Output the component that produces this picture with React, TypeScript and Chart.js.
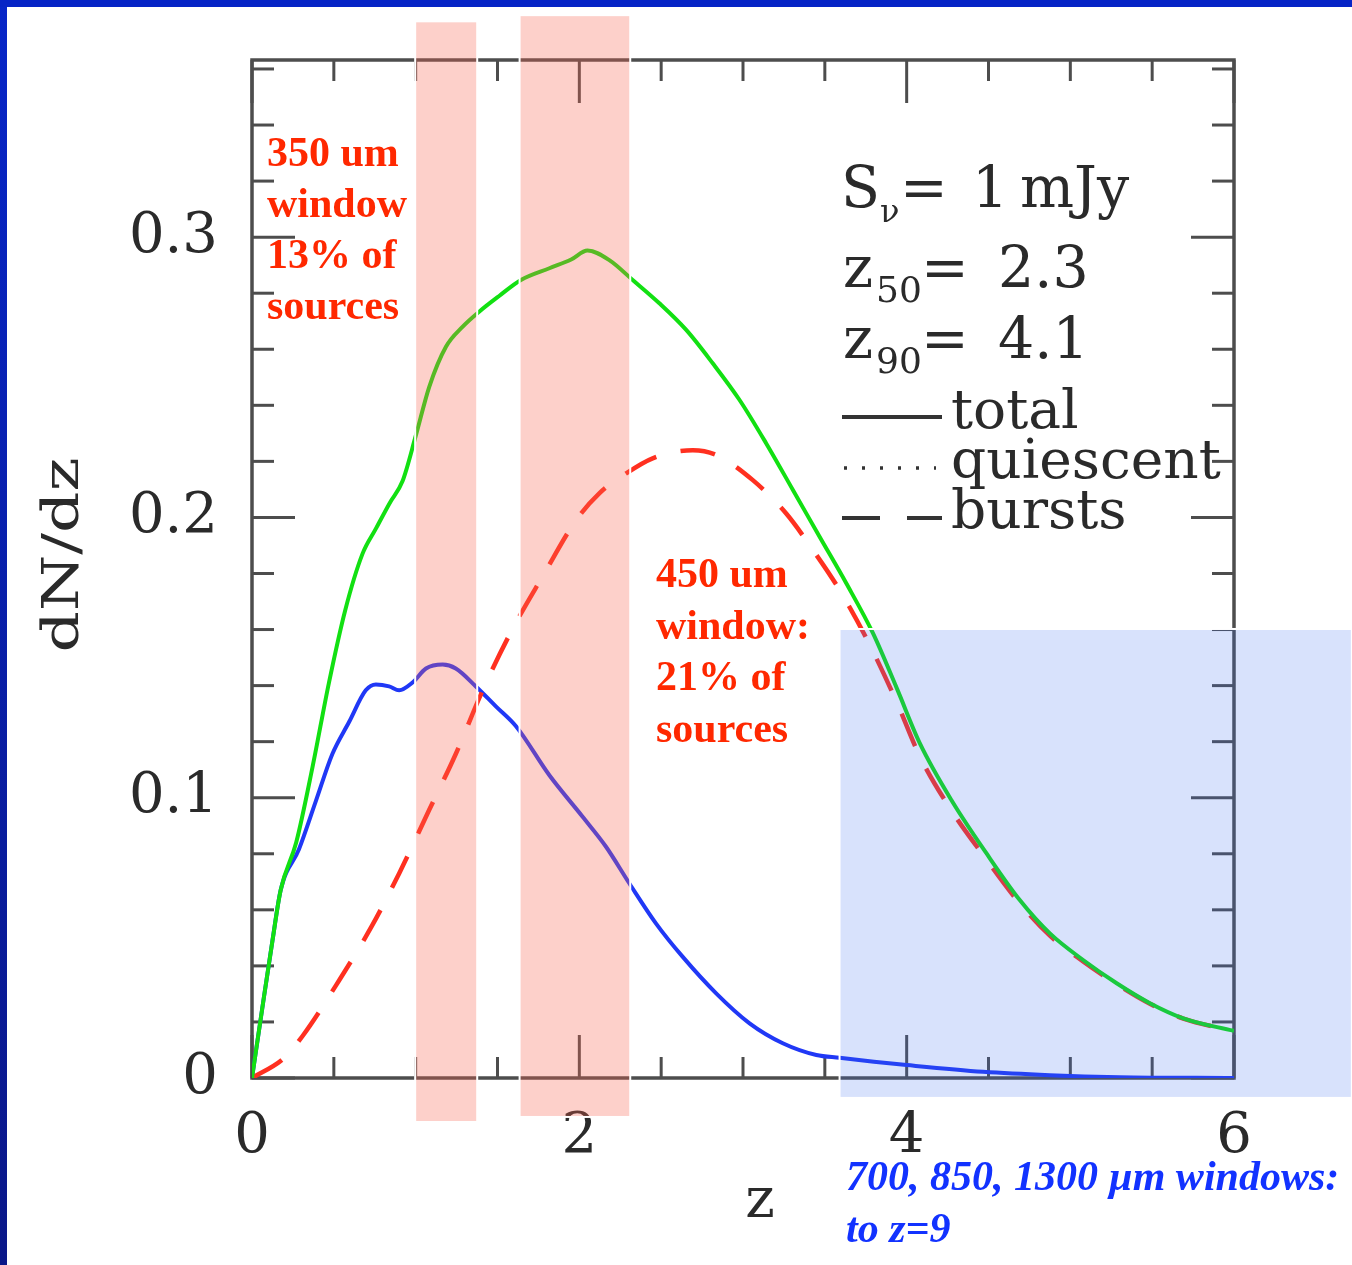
import React, { useEffect, useRef } from 'react';
import { Chart, registerables } from 'chart.js';

Chart.register(...registerables);

// ---------- data ----------
const zTotal = [0, 0.063, 0.125, 0.175, 0.27, 0.37, 0.47, 0.57, 0.675, 0.757, 0.84, 0.92, 1.0, 1.083, 1.185, 1.286, 1.388, 1.51, 1.643, 1.817, 1.95, 2.05, 2.183, 2.326, 2.489, 2.653, 2.815, 2.979, 3.142, 3.305, 3.468, 3.631, 3.794, 3.94, 4.08, 4.273, 4.487, 4.691, 4.875, 5.078, 5.283, 5.486, 5.69, 6.0];
const total = [0, 0.025, 0.049, 0.067, 0.084, 0.111, 0.141, 0.167, 0.187, 0.196, 0.205, 0.213, 0.229, 0.2466, 0.2609, 0.268, 0.2734, 0.279, 0.2847, 0.2889, 0.292, 0.2952, 0.2918, 0.2847, 0.2764, 0.2669, 0.255, 0.2419, 0.2264, 0.2098, 0.1931, 0.1765, 0.1587, 0.139, 0.1195, 0.0992, 0.0802, 0.0635, 0.0516, 0.0421, 0.0338, 0.0267, 0.0213, 0.0168];

const zQuiescent = [0, 0.063, 0.125, 0.175, 0.287, 0.389, 0.491, 0.593, 0.695, 0.757, 0.838, 0.899, 0.981, 1.063, 1.165, 1.245, 1.368, 1.49, 1.613, 1.817, 2.02, 2.163, 2.306, 2.469, 2.632, 2.836, 3.04, 3.243, 3.448, 3.59, 3.8, 4.0, 4.467, 4.875, 5.3, 6.0];
const quiescent = [0, 0.025, 0.049, 0.067, 0.0816, 0.0986, 0.1156, 0.127, 0.1383, 0.1404, 0.1397, 0.1383, 0.1411, 0.1461, 0.1475, 0.1461, 0.1397, 0.1326, 0.1255, 0.108, 0.0932, 0.0825, 0.0694, 0.0551, 0.0432, 0.0302, 0.0195, 0.0124, 0.0082, 0.0072, 0.0058, 0.0046, 0.0022, 0.001, 0.0003, 0];

const zBursts = [0, 0.196, 0.308, 0.532, 0.736, 0.899, 1.083, 1.245, 1.409, 1.59, 1.776, 1.98, 2.122, 2.286, 2.448, 2.693, 2.836, 3.06, 3.264, 3.427, 3.59, 3.753, 3.94, 4.08, 4.273, 4.487, 4.691, 4.875, 5.078, 5.283, 5.486, 5.69, 6.0];
const bursts = [0, 0.0071, 0.0149, 0.0348, 0.0546, 0.073, 0.0957, 0.1156, 0.1383, 0.16, 0.179, 0.199, 0.2086, 0.2157, 0.2211, 0.224, 0.2223, 0.2133, 0.2014, 0.1884, 0.1741, 0.157, 0.134, 0.1148, 0.0955, 0.078, 0.0623, 0.0508, 0.0416, 0.0335, 0.0265, 0.0212, 0.0167];

const xTickValues = [0, 2, 4, 6];
const yTickValues = [0, 0.1, 0.2, 0.3];
const xAxisMax = 6;
const yAxisMax = 0.3632;

// shaded windows in data units: [zStart, zEnd, yBottom, yTop]
const window350 = [0.997, 1.376, -0.0157, 0.377];
const window450 = [1.635, 2.311, -0.0139, 0.3792];
const windowMm = [3.59, 6.72, -0.0071, 0.1602];

const label350 = ['350 um', 'window', '13% of', 'sources'];
const label450 = ['450 um', 'window:', '21% of', 'sources'];
const labelMm = ['700, 850, 1300 \u00b5m windows:', 'to z=9'];

const toPoints = (xs: number[], ys: number[]) => xs.map((x, i) => ({ x, y: ys[i] }));

const SERIF = '"DejaVu Serif"';
const INK = '#2a2a2a';

const decorPlugin = {
  id: 'decor',
  beforeDraw(chart: any) {
    const { ctx, width, height } = chart;
    ctx.save();
    ctx.fillStyle = '#ffffff';
    ctx.fillRect(0, 0, width, height);
    const g = ctx.createLinearGradient(0, 0, 0, height);
    g.addColorStop(0, '#0726c8');
    g.addColorStop(1, '#0a1788');
    ctx.fillStyle = g;
    ctx.fillRect(0, 0, 7, height);
    ctx.fillStyle = '#0624c6';
    ctx.fillRect(0, 0, width, 7);
    ctx.restore();
  },
  beforeDatasetsDraw(chart: any) {
    const { ctx, chartArea, scales } = chart;
    const { left, right, top, bottom } = chartArea;
    const x = scales.x;
    const y = scales.y;
    ctx.save();
    ctx.strokeStyle = '#4d4d4d';
    ctx.lineWidth = 3.5;
    ctx.lineCap = 'butt';
    ctx.strokeRect(left, top, right - left, bottom - top);
    const line = (x1: number, y1: number, x2: number, y2: number) => {
      ctx.beginPath();
      ctx.moveTo(x1, y1);
      ctx.lineTo(x2, y2);
      ctx.stroke();
    };
    ctx.lineWidth = 3;
    for (let k = 0; k <= 18; k++) {
      const v = k * 0.02;
      if (v > yAxisMax) break;
      const py = y.getPixelForValue(v);
      const len = k % 5 === 0 ? 43 : 22;
      line(left, py, left + len, py);
      line(right, py, right - len, py);
    }
    for (let k = 0; k <= 12; k++) {
      const v = k * 0.5;
      const px = x.getPixelForValue(v);
      const len = k % 4 === 0 ? 43 : 21;
      line(px, bottom, px, bottom - len);
      line(px, top, px, top + len);
    }
    // axis titles
    ctx.fillStyle = INK;
    ctx.font = `56px ${SERIF}`;
    ctx.textAlign = 'center';
    ctx.textBaseline = 'alphabetic';
    ctx.fillText('z', (left + right) / 2 + 17, 1217);
    ctx.save();
    ctx.translate(78, 555);
    ctx.rotate(-Math.PI / 2);
    ctx.font = `50px ${SERIF}`;
    const w = ctx.measureText('dN/dz').width;
    ctx.scale(195 / w, 1);
    ctx.fillText('dN/dz', 0, 0);
    ctx.restore();
    ctx.restore();
  },
  afterDatasetsDraw(chart: any) {
    const { ctx, scales } = chart;
    const x = scales.x;
    const y = scales.y;
    ctx.save();
    const rect = (wdw: number[], fill: string) => {
      const x1 = x.getPixelForValue(wdw[0]);
      const x2 = x.getPixelForValue(wdw[1]);
      const y1 = y.getPixelForValue(wdw[3]);
      const y2 = y.getPixelForValue(wdw[2]);
      ctx.fillStyle = fill;
      ctx.fillRect(x1, y1, x2 - x1, y2 - y1);
      ctx.strokeStyle = '#ffffff';
      ctx.lineWidth = 2;
      ctx.strokeRect(x1, y1, x2 - x1, y2 - y1);
    };
    rect(window350, 'rgba(250,100,80,0.30)');
    rect(window450, 'rgba(250,100,80,0.30)');
    rect(windowMm, 'rgba(60,110,240,0.20)');

    // legend / annotation inside plot
    ctx.fillStyle = INK;
    ctx.textAlign = 'left';
    ctx.textBaseline = 'alphabetic';
    ctx.font = `57px ${SERIF}`;
    ctx.fillText('S', 841, 207);
    ctx.fillText('=', 900, 207);
    ctx.fillText('1', 972, 207);
    ctx.fillText('mJy', 1020, 207);
    ctx.font = `32px ${SERIF}`;
    ctx.fillText('\u03bd', 880, 222);
    ctx.font = `57px ${SERIF}`;
    ctx.fillText('z', 843, 287);
    ctx.fillText('=', 921, 287);
    ctx.fillText('2.3', 998, 287);
    ctx.fillText('z', 843, 358);
    ctx.fillText('=', 921, 358);
    ctx.fillText('4.1', 998, 358);
    ctx.font = `36px ${SERIF}`;
    ctx.fillText('50', 876, 302);
    ctx.fillText('90', 876, 373);
    ctx.font = `55px ${SERIF}`;
    ctx.fillText('total', 951, 428);
    ctx.fillText('quiescent', 951, 478);
    ctx.fillText('bursts', 951, 528);
    ctx.strokeStyle = '#333333';
    ctx.lineWidth = 4;
    ctx.beginPath();
    ctx.moveTo(842, 417);
    ctx.lineTo(942, 417);
    ctx.stroke();
    ctx.setLineDash([3, 15]);
    ctx.lineWidth = 3.5;
    ctx.beginPath();
    ctx.moveTo(844, 468);
    ctx.lineTo(936, 468);
    ctx.stroke();
    ctx.setLineDash([38, 27]);
    ctx.lineWidth = 4;
    ctx.beginPath();
    ctx.moveTo(842, 518);
    ctx.lineTo(942, 518);
    ctx.stroke();
    ctx.setLineDash([]);

    // red window labels
    ctx.fillStyle = 'rgb(255,40,0)';
    ctx.font = `bold 42px "Liberation Serif"`;
    label350.forEach((t, i) => ctx.fillText(t, 267, 166 + i * 51));
    label450.forEach((t, i) => ctx.fillText(t, 656, 587 + i * 51.5));
    // blue label
    ctx.fillStyle = '#1232ff';
    ctx.font = `italic bold 42px "Liberation Serif"`;
    labelMm.forEach((t, i) => ctx.fillText(t, 846, 1190 + i * 52));
    ctx.restore();
  },
};

export default function App() {
  const ref = useRef<HTMLCanvasElement>(null);
  useEffect(() => {
    if (!ref.current) return;
    const chart = new Chart(ref.current, {
      type: 'line',
      data: {
        datasets: [
          {
            label: 'total',
            data: toPoints(zTotal, total),
            borderColor: '#12e012',
            borderWidth: 4,
            pointRadius: 0,
            fill: false,
            cubicInterpolationMode: 'monotone',
          },
          {
            label: 'bursts',
            data: toPoints(zBursts, bursts),
            borderColor: '#ff3020',
            borderWidth: 4.5,
            borderDash: [35, 25],
            pointRadius: 0,
            fill: false,
            cubicInterpolationMode: 'monotone',
          },
          {
            label: 'quiescent',
            data: toPoints(zQuiescent, quiescent),
            borderColor: '#2038f6',
            borderWidth: 4,
            pointRadius: 0,
            fill: false,
            cubicInterpolationMode: 'monotone',
          },
        ],
      },
      options: {
        animation: false,
        responsive: false,
        devicePixelRatio: 1,
        layout: { padding: { left: 0, top: 60, right: 118, bottom: 87 } },
        plugins: { legend: { display: false }, tooltip: { enabled: false } },
        scales: {
          x: {
            type: 'linear',
            min: 0,
            max: xAxisMax,
            afterBuildTicks: (s: any) => {
              s.ticks = xTickValues.map((v) => ({ value: v }));
            },
            afterFit: (s: any) => {
              s.height = 100;
              s.paddingLeft = 0;
              s.paddingRight = 0;
            },
            grid: { display: false, drawTicks: false },
            border: { display: false },
            ticks: {
              autoSkip: false,
              maxRotation: 0,
              padding: 26,
              color: INK,
              font: { family: 'DejaVu Serif', size: 56 },
              callback: (v: any) => String(v),
            },
          },
          y: {
            type: 'linear',
            min: 0,
            max: yAxisMax,
            afterBuildTicks: (s: any) => {
              s.ticks = yTickValues.map((v) => ({ value: v }));
            },
            afterFit: (s: any) => {
              s.width = 252;
              s.paddingTop = 0;
              s.paddingBottom = 0;
            },
            grid: { display: false, drawTicks: false },
            border: { display: false },
            ticks: {
              padding: 34,
              color: INK,
              font: { family: 'DejaVu Serif', size: 56 },
              callback: (v: any) => (Number(v) === 0 ? '0' : Number(v).toFixed(1)),
            },
          },
        },
      },
      plugins: [decorPlugin],
    } as any);
    return () => chart.destroy();
  }, []);
  return (
    <div style={{ position: 'absolute', left: 0, top: 0, width: 1352, height: 1265, background: '#fff' }}>
      <canvas ref={ref} width={1352} height={1265} style={{ display: 'block', width: 1352, height: 1265 }} />
    </div>
  );
}
